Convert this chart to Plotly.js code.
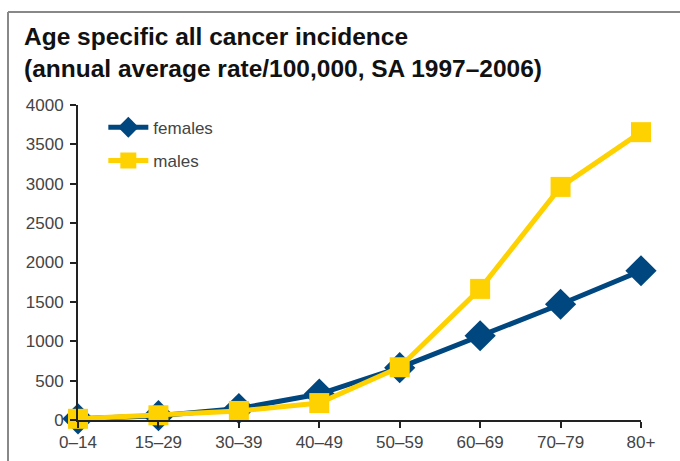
<!DOCTYPE html>
<html>
<head>
<meta charset="utf-8">
<script src="https://cdn.plot.ly/plotly-3.0.1.min.js"></script>
<style>html,body{margin:0;padding:0;background:#fff;}#chart{width:680px;height:461px;}</style>
</head>
<body>
<div id="chart"></div>
<script>
const ageGroups = ["0–14", "15–29", "30–39", "40–49", "50–59", "60–69", "70–79", "80+"];
const females = [15, 55, 145, 330, 665, 1070, 1470, 1895];
const males = [15, 60, 115, 215, 670, 1665, 2960, 3655];
const yTicks = [0, 500, 1000, 1500, 2000, 2500, 3000, 3500, 4000];

const traces = [
  {
    x: ageGroups, y: females, name: "females", type: "scatter", mode: "lines+markers",
    legendgroup: "f",
    line: {color: "#00467f", width: 5},
    marker: {symbol: "diamond", size: 24, color: "#00467f"},
    cliponaxis: false
  },
  {
    x: ageGroups, y: males, name: "males", type: "scatter", mode: "lines+markers",
    legendgroup: "m",
    line: {color: "#fed100", width: 5},
    marker: {symbol: "square", size: 20, color: "#fed100"},
    cliponaxis: false
  }
];

const layout = {
  width: 680, height: 461,
  margin: {l: 78, r: 39, t: 105, b: 41},
  paper_bgcolor: "#fff", plot_bgcolor: "#fff",
  font: {family: "Liberation Sans, Arial, sans-serif", color: "#444", size: 17},
  title: {
    text: "<b>Age specific all cancer incidence<br>(annual average rate/100,000, SA 1997–2006)</b>",
    font: {family: "Liberation Sans, Arial, sans-serif", size: 24.5, color: "#111"},
    x: 24/680, xanchor: "left", xref: "container", y: 1 - 45/461, yanchor: "top", yref: "container"
  },
  xaxis: {
    type: "category", range: [0, 7], showgrid: false, zeroline: false,
    showline: true, linecolor: "#222", linewidth: 2,
    ticks: "outside", ticklen: 6, tickwidth: 2, tickcolor: "#222",
    tickfont: {size: 17, color: "#444"}
  },
  yaxis: {
    range: [0, 4000], tickvals: yTicks, showgrid: false, zeroline: false,
    showline: true, linecolor: "#222", linewidth: 2,
    ticks: "outside", ticklen: 6, tickwidth: 2, tickcolor: "#222",
    ticklabelstandoff: 3,
    tickfont: {size: 17, color: "#444"}
  },
  legend: {
    x: 0.045, y: 0.985, xanchor: "left", yanchor: "top",
    bgcolor: "rgba(0,0,0,0)", font: {size: 17, color: "#444"},
    traceorder: "grouped", tracegroupgap: 8, itemwidth: 40
  },
  showlegend: true,
  shapes: [
    {type: "line", xref: "paper", yref: "paper", x0: (8-78)/563, x1: (690-78)/563, y0: (420-12)/315, y1: (420-12)/315, line: {color: "#888", width: 2}},
    {type: "line", xref: "paper", yref: "paper", x0: (8-78)/563, x1: (8-78)/563, y0: (420-12)/315, y1: (420-470)/315, line: {color: "#888", width: 2}}
  ]
};

Plotly.newPlot("chart", traces, layout, {displayModeBar: false, staticPlot: true});
</script>
</body>
</html>
